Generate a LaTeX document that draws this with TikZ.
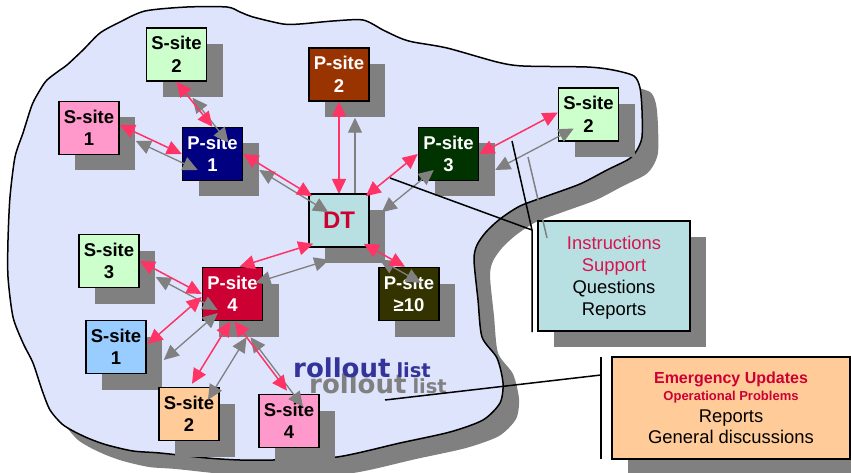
\documentclass[tikz,border=0pt]{standalone}
\usepackage{fontspec}
\setmainfont{Liberation Sans}
\newfontfamily\rollfont{DejaVu Sans}
\usetikzlibrary{arrows.meta,calc,shadows}
\definecolor{shadowgray}{HTML}{808080}
\definecolor{blobfill}{HTML}{DDE4FC}
\definecolor{sgreen}{HTML}{CCFFCC}
\definecolor{spink}{HTML}{FF99CC}
\definecolor{pnavy}{HTML}{000080}
\definecolor{pbrown}{HTML}{993300}
\definecolor{dtfill}{HTML}{B8E0E3}
\definecolor{pgreen}{HTML}{003300}
\definecolor{pcrimson}{HTML}{CC0033}
\definecolor{polive}{HTML}{333300}
\definecolor{sblue}{HTML}{99CCFF}
\definecolor{sorange}{HTML}{FFCC99}
\definecolor{arrowred}{HTML}{FF3366}
\definecolor{textred}{HTML}{CC0033}
\definecolor{infored}{HTML}{D8144F}
\definecolor{rollblue}{HTML}{333399}
\tikzset{
  boxshadow/.style={drop shadow={shadow xshift=16pt, shadow yshift=-16pt, opacity=1, fill=shadowgray}},
  sitebox/.style={draw=black, line width=1.5pt, minimum width=60pt, minimum height=53pt,
    inner sep=0pt, align=center, font=\bfseries\fontsize{18.5}{22.5}\selectfont, boxshadow},
  pbox/.style={sitebox, text=white},
  infobox/.style={draw=black, line width=1.5pt, inner sep=0pt, align=center, boxshadow},
  redarrow/.style={draw=arrowred, line width=1.5pt,
    {Triangle[length=15pt,width=14pt]}-{Triangle[length=15pt,width=14pt]}},
  grayarrow/.style={draw=shadowgray, line width=1.3pt,
    {Triangle[length=15pt,width=14pt]}-{Triangle[length=15pt,width=14pt]},
    transform canvas={shift={(16,16)}}},
  callline/.style={draw=black, line width=1.5pt},
  shadowline/.style={draw=shadowgray, line width=1.5pt},
  rolltext/.style={anchor=base west, inner sep=0pt}
}
\newcommand{\blobpath}{plot[smooth cycle, tension=0.45] coordinates {
 (145,11) (187,7) (227,7) (240,12) (253,17) (283,24) (300,24) (333,21) (363,20) (383,30)
 (400,38) (413,42) (447,48) (497,62) (523,66) (587,67) (613,70) (634,76) (640,88) (642,110)
 (642,137) (637,150) (629,159) (607,170) (580,184) (547,196) (520,206) (500,219) (486,232)
 (477,245) (474,260) (478,300) (482,337) (497,358) (503,383) (500,403) (483,420) (450,432)
 (400,443) (337,457) (273,460) (240,460) (207,458) (160,453) (133,451) (107,445) (90,439)
 (75,432) (62,424) (50,410) (42,390) (33,363) (23,343) (13,317) (8,277) (8,240) (10,197)
 (15,157) (23,133) (32,105) (40,90) (47,80) (60,70) (67,65) (83,50) (100,33) (120,22)}}
\newcommand{\rolltxt}{{\rollfont\bfseries\fontsize{26}{28}\selectfont rollout}\hspace{6pt}{\rollfont\bfseries\fontsize{19.5}{22}\selectfont list}}
\begin{document}
\begin{tikzpicture}[x=1pt,y=-1pt]
\useasboundingbox (0,0) rectangle (851,473);
\clip (0,0) rectangle (851,473);
\fill[white] (0,0) rectangle (851,473);
% cloud
\fill[shadowgray, shift={(16,16)}] \blobpath;
\draw[fill=blobfill, line width=1.5pt] \blobpath;
% site boxes
\node[sitebox, fill=sgreen] (s2t) at (176.5,54.5) {S-site\\2};
\node[sitebox, fill=spink] (s1t) at (89,128) {S-site\\1};
\node[pbox, fill=pnavy] (p1) at (212.5,154) {P-site\\1};
\node[pbox, fill=pbrown] (p2) at (339,74.5) {P-site\\2};
\node[pbox, fill=pgreen] (p3) at (448.5,154) {P-site\\3};
\node[sitebox, fill=sgreen] (s2r) at (588.5,114.5) {S-site\\2};
\node[sitebox, fill=sgreen] (s3) at (109,261) {S-site\\3};
\node[pbox, fill=pcrimson] (p4) at (232.5,294) {P-site\\4};
\node[pbox, fill=polive] (p10) at (409,294) {P-site\\≥10};
\node[sitebox, fill=sblue] (s1b) at (116,347) {S-site\\1};
\node[sitebox, fill=sorange] (s2b) at (189,414) {S-site\\2};
\node[sitebox, fill=spink] (s4) at (289,421) {S-site\\4};
% P-site 2 <-> DT (under the DT box)
\coordinate (dttop) at (339,194);
\draw[grayarrow] (p2.south) -- (dttop);
\draw[redarrow] (p2.south) -- (dttop);
\node[sitebox, fill=dtfill, text=textred, font=\bfseries\fontsize{24}{28}\selectfont] (dt) at (339,220.5) {DT};
% shadows of the arrows
\draw[grayarrow] (s2t.south) -- (p1.north);
\draw[grayarrow] ($(s1t.east)+(0,-3)$) -- (p1.west);
\draw[grayarrow] (p1.east) -- ($(dt.north west)+(4,3)$);
\draw[grayarrow] ($(dt.north east)+(-4,3)$) -- (p3.west);
\draw[grayarrow] (p3.east) -- ($(s2r.west)+(0,-2)$);
\draw[grayarrow] ($(dt.south west)+(5,-4)$) -- ($(p4.north)+(7,0)$);
\draw[grayarrow] ($(dt.south east)+(-6,-4)$) -- ($(p10.north)+(-4,0)$);
\draw[grayarrow] (s3.east) -- (p4.west);
\draw[grayarrow] ($(p4.west)+(0,3)$) -- ($(s1b.east)+(1,-3)$);
\draw[grayarrow] ($(p4.south)+(-2,0)$) -- ($(s2b.north)+(3,-3)$);
\draw[grayarrow] ($(p4.south)+(2,0)$) -- ($(s4.north)+(-2,-3)$);
% arrows
\draw[redarrow] (s2t.south) -- (p1.north);
\draw[redarrow] ($(s1t.east)+(0,-3)$) -- (p1.west);
\draw[redarrow] (p1.east) -- ($(dt.north west)+(4,3)$);
\draw[redarrow] ($(dt.north east)+(-4,3)$) -- (p3.west);
\draw[redarrow] (p3.east) -- ($(s2r.west)+(0,-2)$);
\draw[redarrow] ($(dt.south west)+(5,-4)$) -- ($(p4.north)+(7,0)$);
\draw[redarrow] ($(dt.south east)+(-6,-4)$) -- ($(p10.north)+(-4,0)$);
\draw[redarrow] (s3.east) -- (p4.west);
\draw[redarrow] ($(p4.west)+(0,3)$) -- ($(s1b.east)+(1,-3)$);
\draw[redarrow] ($(p4.south)+(-2,0)$) -- ($(s2b.north)+(3,-3)$);
\draw[redarrow] ($(p4.south)+(2,0)$) -- ($(s4.north)+(-2,-3)$);
% rollout list
\node[rolltext, text=shadowgray] (rollshadow) at (309,393) {\rolltxt};
\node[rolltext, text=rollblue] (roll) at (293,377.7) {\rolltxt};
% callout 1
\node[infobox, fill=dtfill, minimum width=152pt, minimum height=110pt,
  font=\fontsize{18.4}{22}\selectfont, text depth=0pt] (info1) at (614,276)
  {\textcolor{infored}{Instructions}\\\textcolor{infored}{Support}\\Questions\\Reports};
\coordinate (c1a) at (390,178);
\coordinate (c1t) at (512,141);
\coordinate (c1j) at (532,230);
\coordinate (c1b) at (532,332);
\coordinate (c1s) at (528,157);
\coordinate (c1u) at (547,238);
\draw[shadowline] (c1s) -- (c1u);
\draw[callline] (c1a) -- (c1j);
\draw[callline] (c1t) -- (c1j) -- (c1b);
% callout 2
\node[infobox, fill=sorange, minimum width=238pt, minimum height=102pt,
  font=\fontsize{18.4}{21.5}\selectfont] (info2) at (731,408)
  {{\bfseries\fontsize{16}{19}\selectfont\color{textred}Emergency Updates}\\[-4.5pt]
   {\bfseries\fontsize{13}{15}\selectfont\color{textred}Operational Problems}\\
   Reports\\General discussions};
\coordinate (c2a) at (385,400);
\coordinate (c2j) at (601,375);
\coordinate (c2t) at (601,357);
\coordinate (c2b) at (601,459);
\draw[callline] (c2a) -- (c2j);
\draw[callline] (c2t) -- (c2b);
\end{tikzpicture}
\end{document}
